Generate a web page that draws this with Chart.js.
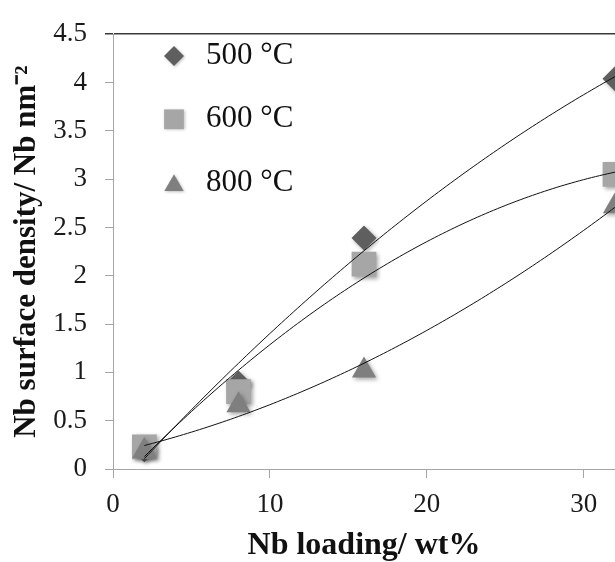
<!DOCTYPE html>
<html>
<head>
<meta charset="utf-8">
<script src="https://cdn.jsdelivr.net/npm/chart.js"></script>
<style>
  html, body { margin: 0; padding: 0; background: #fff; overflow: hidden; }
  #wrap { position: relative; width: 615px; height: 562px; }
</style>
</head>
<body>
<div id="wrap"><canvas id="chart"></canvas></div>
<script>
// data
const loading = [2, 8, 16, 32];
const density500 = [0.20, 0.89, 2.39, 4.04];
const density600 = [0.23, 0.80, 2.12, 3.05];
const density800 = [0.19, 0.66, 1.02, 2.72];
const seriesLabels = ['500 °C', '600 °C', '800 °C'];
const xTicks = [0, 10, 20, 30];
const yTicks = [0, 0.5, 1, 1.5, 2, 2.5, 3, 3.5, 4, 4.5];

const SERIF = '"Liberation Serif", "Times New Roman", serif';

function toPoints(xs, ys) {
  return xs.map((x, i) => ({ x, y: ys[i] }));
}

// 2nd order polynomial trendline (least squares), like the spreadsheet one
function quadFit(xs, ys) {
  const S = [0, 0, 0, 0, 0], T = [0, 0, 0];
  xs.forEach((x, i) => {
    for (let k = 0; k < 5; k++) S[k] += Math.pow(x, k);
    for (let k = 0; k < 3; k++) T[k] += ys[i] * Math.pow(x, k);
  });
  const A = [[S[0], S[1], S[2]], [S[1], S[2], S[3]], [S[2], S[3], S[4]]];
  const b = T.slice();
  for (let c = 0; c < 3; c++) {
    for (let r = c + 1; r < 3; r++) {
      const f = A[r][c] / A[c][c];
      for (let k = c; k < 3; k++) A[r][k] -= f * A[c][k];
      b[r] -= f * b[c];
    }
  }
  const coef = [0, 0, 0];
  for (let r = 2; r >= 0; r--) {
    let s = b[r];
    for (let k = r + 1; k < 3; k++) s -= A[r][k] * coef[k];
    coef[r] = s / A[r][r];
  }
  return coef;
}

function trendline(xs, ys) {
  const c = quadFit(xs, ys);
  const lo = Math.min(...xs), hi = Math.max(...xs);
  const pts = [];
  for (let x = lo; x <= hi + 1e-9; x += 0.25) {
    pts.push({ x, y: c[0] + c[1] * x + c[2] * x * x });
  }
  return pts;
}

const markerSeries = [
  { label: seriesLabels[0], ys: density500, style: 'rectRot', r: 12.5, color: '#5f5f5f', order: 3 },
  { label: seriesLabels[1], ys: density600, style: 'rect', r: 17.5, color: '#a6a6a6', order: 2 },
  { label: seriesLabels[2], ys: density800, style: 'triangle', r: 14, color: '#7f7f7f', order: 1 }
];

const datasets = markerSeries.map(s => ({
  label: s.label,
  data: toPoints(loading, s.ys),
  showLine: false,
  pointStyle: s.style,
  pointRadius: s.r,
  pointHoverRadius: s.r,
  backgroundColor: s.color,
  pointBorderWidth: 0,
  borderWidth: 0,
  order: s.order,
  marker: true
}));

markerSeries.forEach(s => {
  datasets.push({
    label: s.label + ' trend',
    data: trendline(loading, s.ys),
    showLine: true,
    pointRadius: 0,
    pointHoverRadius: 0,
    borderColor: '#111',
    borderWidth: 1,
    fill: false,
    order: 0,
    marker: false
  });
});

// soft drop shadow under the markers
const markerShadow = {
  id: 'markerShadow',
  beforeDatasetDraw(chart, args) {
    if (!args.meta._dataset.marker) return;
    const ctx = chart.ctx;
    ctx.save();
    ctx.shadowColor = 'rgba(0,0,0,0.35)';
    ctx.shadowBlur = 4;
    ctx.shadowOffsetX = 2;
    ctx.shadowOffsetY = 2;
  },
  afterDatasetDraw(chart, args) {
    if (!args.meta._dataset.marker) return;
    chart.ctx.restore();
  }
};

// legend sitting inside the plot, top-left
const insideLegend = {
  id: 'insideLegend',
  afterDatasetsDraw(chart) {
    const ctx = chart.ctx;
    const left = chart.chartArea.left;
    ctx.save();
    chart.data.datasets.filter(d => d.marker).forEach((ds, i) => {
      const cy = 56 + i * 63.3;
      const r = ds.pointRadius * 0.8;
      const my = ds.pointStyle === 'triangle' ? cy + r / 4 : cy;
      ctx.save();
      ctx.shadowColor = 'rgba(0,0,0,0.25)';
      ctx.shadowBlur = 3;
      ctx.shadowOffsetX = 1;
      ctx.shadowOffsetY = 1;
      ctx.fillStyle = ds.backgroundColor;
      Chart.helpers.drawPoint(ctx, { pointStyle: ds.pointStyle, radius: r, rotation: 0, borderWidth: 0 }, left + 61, my);
      ctx.restore();
      ctx.fillStyle = '#111';
      ctx.font = '31px ' + SERIF;
      ctx.textBaseline = 'middle';
      ctx.textAlign = 'left';
      ctx.fillText(ds.label, left + 93, cy);
    });
    ctx.restore();
  }
};

const axisGray = '#a6a6a6';

new Chart(document.getElementById('chart'), {
  type: 'scatter',
  data: { datasets },
  plugins: [markerShadow, insideLegend],
  options: {
    responsive: true,
    maintainAspectRatio: false,
    animation: false,
    layout: { autoPadding: false, padding: { top: 24, right: 0, bottom: 0, left: 0 } },
    plugins: {
      legend: { display: false },
      tooltip: { enabled: false }
    },
    scales: {
      x: {
        type: 'linear',
        min: 0,
        max: 32,
        afterBuildTicks: s => { s.ticks = xTicks.map(v => ({ value: v })); },
        afterFit: s => {
          s.height = 93;
          s.paddingLeft = 0;
          s.paddingRight = 0;
        },
        ticks: {
          font: { family: SERIF, size: 27 },
          color: '#1a1a1a',
          padding: 11,
          maxRotation: 0,
          autoSkip: false,
          callback: v => String(v)
        },
        grid: {
          color: 'rgba(0,0,0,0)',
          drawTicks: true,
          tickLength: 9,
          tickColor: axisGray
        },
        border: { color: axisGray, width: 1 },
        title: {
          display: true,
          text: 'Nb loading/ wt%',
          color: '#111',
          font: { family: SERIF, size: 32, weight: 'bold', lineHeight: 1 },
          padding: { top: 0, bottom: 0 }
        }
      },
      y: {
        type: 'linear',
        min: 0,
        max: 4.5,
        afterBuildTicks: s => { s.ticks = yTicks.map(v => ({ value: v })); },
        afterFit: s => { s.width = 113; },
        ticks: {
          font: { family: SERIF, size: 27 },
          color: '#1a1a1a',
          padding: 18,
          callback: v => String(v)
        },
        grid: {
          color: c => (c.tick && c.tick.value === 4.5 ? '#3a3a3a' : 'rgba(0,0,0,0)'),
          lineWidth: c => (c.tick && c.tick.value === 4.5 ? 1.5 : 1),
          drawTicks: true,
          tickLength: 8,
          tickColor: c => (c.tick && c.tick.value === 4.5 ? '#3a3a3a' : axisGray)
        },
        border: { color: axisGray, width: 1 },
        title: {
          display: true,
          text: 'Nb surface density/ Nb nm⁻²',
          color: '#111',
          font: { family: SERIF, size: 31, weight: 'bold', lineHeight: 1 },
          padding: { top: 11.5, bottom: 0 }
        }
      }
    }
  }
});
</script>
</body>
</html>
